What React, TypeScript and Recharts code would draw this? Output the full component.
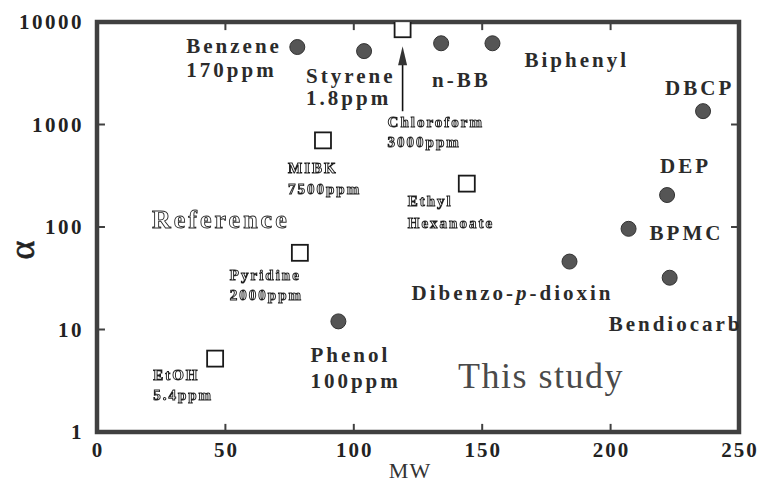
import React from 'react';
import { ScatterChart, Scatter, XAxis, YAxis, ReferenceArea, ReferenceLine } from 'recharts';

// Compounds measured in this study (filled circles)
const studyNames = ['Benzene', 'Styrene', 'n-BB', 'Biphenyl', 'DBCP', 'DEP', 'BPMC', 'Bendiocarb', 'Dibenzo-p-dioxin', 'Phenol'];
const studyMW = [78, 104, 134, 154, 236, 222, 207, 223, 184, 94];
const studyAlpha = [5700, 5200, 6200, 6200, 1350, 205, 96, 32, 46, 12];
const studyNotes = ['170ppm', '1.8ppm', '', '', '', '', '', '', '', '100ppm'];

// Literature values (open squares)
const refNames = ['EtOH', 'Pyridine', 'MIBK', 'Chloroform', 'Ethyl Hexanoate'];
const refMW = [46, 79, 88, 119, 144];
const refAlpha = [5.2, 56, 700, 8500, 265];
const refNotes = ['5.4ppm', '2000ppm', '7500ppm', '3000ppm', ''];

const xTicks = [0, 50, 100, 150, 200, 250];
const yTicks = [1, 10, 100, 1000, 10000];
const innerXTicks = [50, 100, 150, 200];
const innerYTicks = [10, 100, 1000];

const studyData = studyNames.map((name, i) => ({ name, mw: studyMW[i], alpha: studyAlpha[i], note: studyNotes[i] }));
const refData = refNames.map((name, i) => ({ name, mw: refMW[i], alpha: refAlpha[i], note: refNotes[i] }));

// label placement relative to each marker (text start, first baseline, line gap)
const studyLayout: Record<string, { dx: number; dy: number; gap: number }> = {
  Benzene: { dx: -111, dy: 6, gap: 24 },
  Styrene: { dx: -58, dy: 32, gap: 22 },
  'n-BB': { dx: -9, dy: 44, gap: 24 },
  Biphenyl: { dx: 32, dy: 24, gap: 24 },
  DBCP: { dx: -38, dy: -16, gap: 24 },
  DEP: { dx: -7, dy: -22, gap: 24 },
  BPMC: { dx: 21, dy: 11, gap: 24 },
  Bendiocarb: { dx: -61, dy: 53, gap: 24 },
  'Dibenzo-p-dioxin': { dx: -158, dy: 38, gap: 24 },
  Phenol: { dx: -28, dy: 41, gap: 26 },
};

const refLayout: Record<string, { dx: number; dy: number; gap: number; arrow?: boolean }> = {
  EtOH: { dx: -62, dy: 21, gap: 20 },
  Pyridine: { dx: -70, dy: 27, gap: 20 },
  MIBK: { dx: -35, dy: 33, gap: 21 },
  Chloroform: { dx: -15, dy: 98, gap: 20, arrow: true },
  'Ethyl Hexanoate': { dx: -59, dy: 22, gap: 22 },
};

const SERIF = '"Liberation Serif", "DejaVu Serif", serif';
const X_TICK_LEN = 3.1;
const Y_TICK_FACTOR = 1.2;
const GREY_TEXT = { filter: 'grayscale(1)' };

const StudyMarker = (props: any) => {
  const { cx, cy, payload } = props;
  const lay = studyLayout[payload.name];
  const tx = cx + lay.dx;
  const ty = cy + lay.dy;
  const parts = payload.name.split('-p-');
  return (
    <g>
      <circle cx={cx} cy={cy} r={7.5} fill="#555" stroke="#333" strokeWidth={1} />
      <text x={tx} y={ty} fontFamily={SERIF} fontWeight="bold" fontSize={21} letterSpacing={3} fill="#2b2b2b">
        {parts.length === 2 ? (
          <>
            <tspan>{parts[0]}-</tspan>
            <tspan fontStyle="italic">p</tspan>
            <tspan>-{parts[1]}</tspan>
          </>
        ) : (
          payload.name
        )}
      </text>
      {payload.note ? (
        <text x={tx} y={ty + lay.gap} fontFamily={SERIF} fontWeight="bold" fontSize={21} letterSpacing={3} fill="#2b2b2b">
          {payload.note}
        </text>
      ) : null}
    </g>
  );
};

const RefMarker = (props: any) => {
  const { cx, cy, payload } = props;
  const lay = refLayout[payload.name];
  const tx = cx + lay.dx;
  const ty = cy + lay.dy;
  const words: string[] = payload.name.split(' ');
  const lines = payload.note ? [...words, payload.note] : words;
  return (
    <g>
      {lay.arrow ? (
        <g>
          <line x1={cx} y1={cy + 82} x2={cx} y2={cy + 32} stroke="#111" strokeWidth={1.6} />
          <polygon points={`${cx},${cy + 17} ${cx - 4.5},${cy + 36} ${cx + 4.5},${cy + 36}`} fill="#333" />
        </g>
      ) : null}
      <rect x={cx - 8} y={cy - 8} width={16} height={16} fill="#fff" stroke="#1a1a1a" strokeWidth={1.8} />
      <g style={GREY_TEXT}>
        {lines.map((ln, i) => (
          <text
            key={i}
            x={tx}
            y={ty + i * lay.gap}
            fontFamily={SERIF}
            fontWeight="bold"
            fontSize={15}
            letterSpacing={2}
            fill="#fff"
            stroke="#1e1e1e"
            strokeWidth={0.95}
          >
            {ln}
          </text>
        ))}
      </g>
    </g>
  );
};

const XTick = (props: any) => {
  const { x, y, payload } = props;
  return (
    <text x={x + 1} y={y + 25} textAnchor="middle" fontFamily={SERIF} fontWeight="bold" fontSize={21} letterSpacing={2} fill="#222">
      {payload.value}
    </text>
  );
};

const YTick = (props: any) => {
  const { x, y, payload } = props;
  return (
    <text x={x - 13} y={y + 7} textAnchor="end" fontFamily={SERIF} fontWeight="bold" fontSize={21} letterSpacing={2.5} fill="#222">
      {payload.value}
    </text>
  );
};

export default function App() {
  return (
    <div style={{ position: 'absolute', left: 0, top: 0, width: 761, height: 484, background: '#fff' }}>
      <ScatterChart width={761} height={484} margin={{ top: 22, right: 22, bottom: 0, left: 0 }}>
        <XAxis
          type="number"
          dataKey="mw"
          domain={[0, 250]}
          ticks={xTicks}
          height={52}
          axisLine={false}
          tickLine={false}
          tickSize={0}
          tickMargin={0}
          tick={<XTick />}
          allowDataOverflow
        />
        <YAxis
          type="number"
          dataKey="alpha"
          scale="log"
          domain={[1, 10000]}
          ticks={yTicks}
          width={97}
          axisLine={false}
          tickLine={false}
          tickSize={0}
          tickMargin={0}
          tick={<YTick />}
          allowDataOverflow
        />
        <ReferenceArea x1={0} x2={250} y1={1} y2={10000} fill="none" fillOpacity={0} stroke="#404040" strokeWidth={4.5} ifOverflow="visible" />
        {innerXTicks.map((t) => (
          <ReferenceLine key={`b${t}`} segment={[{ x: t, y: 1 }, { x: t, y: Y_TICK_FACTOR }]} stroke="#404040" strokeWidth={2} />
        ))}
        {innerXTicks.map((t) => (
          <ReferenceLine key={`t${t}`} segment={[{ x: t, y: 10000 }, { x: t, y: 10000 / Y_TICK_FACTOR }]} stroke="#404040" strokeWidth={2} />
        ))}
        {innerYTicks.map((t) => (
          <ReferenceLine key={`l${t}`} segment={[{ x: 0, y: t }, { x: X_TICK_LEN, y: t }]} stroke="#404040" strokeWidth={2} />
        ))}
        {innerYTicks.map((t) => (
          <ReferenceLine key={`r${t}`} segment={[{ x: 250, y: t }, { x: 250 - X_TICK_LEN, y: t }]} stroke="#404040" strokeWidth={2} />
        ))}
        <Scatter data={refData} shape={<RefMarker />} isAnimationActive={false} />
        <Scatter data={studyData} shape={<StudyMarker />} isAnimationActive={false} />
      </ScatterChart>
      <svg width={761} height={484} style={{ position: 'absolute', left: 0, top: 0, pointerEvents: 'none' }}>
        <text x={22} y={250} transform="rotate(-90, 22, 250)" textAnchor="middle" dominantBaseline="central" fontFamily={SERIF} fontSize={36} fill="#222" stroke="#222" strokeWidth={0.6}>
          α
        </text>
        <text x={410} y={478} textAnchor="middle" fontFamily={SERIF} fontSize={22} letterSpacing={1} fill="#333">
          MW
        </text>
        <g style={GREY_TEXT}>
          <text x={152} y={228} fontFamily={SERIF} fontWeight="bold" fontSize={26} letterSpacing={3} fill="#fff" stroke="#2a2a2a" strokeWidth={0.9}>
            Reference
          </text>
        </g>
        <text x={458} y={388} fontFamily={SERIF} fontSize={36} letterSpacing={1.5} fill="#4a4a4a">
          This study
        </text>
      </svg>
    </div>
  );
}
